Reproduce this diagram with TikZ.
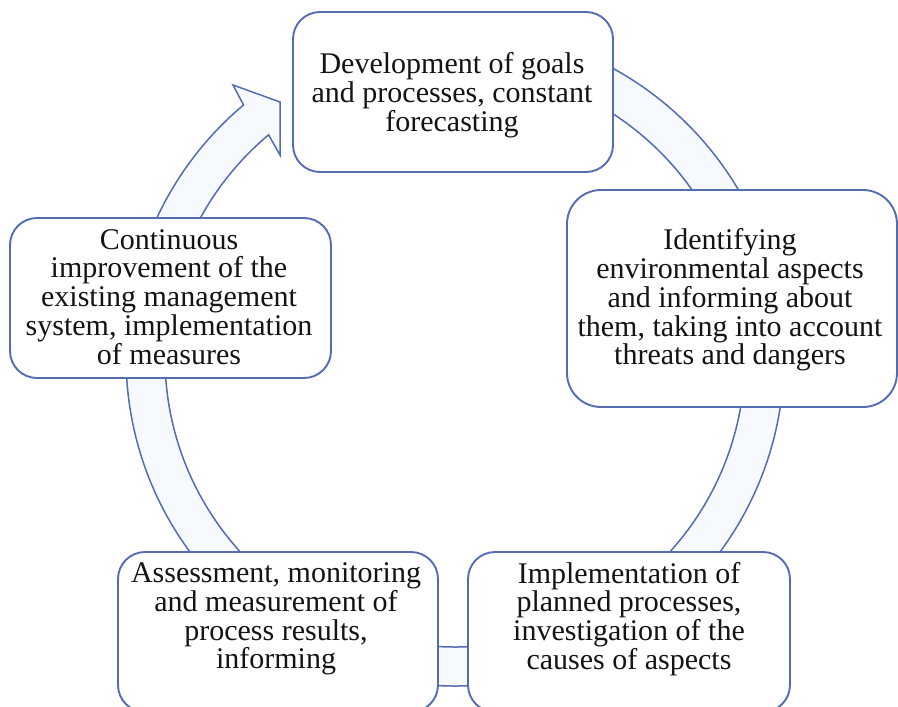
\documentclass[tikz,border=0pt]{standalone}
\usepackage{fontspec}
\setmainfont{Liberation Serif}
\usetikzlibrary{calc}
\definecolor{lineblue}{RGB}{84,108,178}
\definecolor{bandfill}{RGB}{246,249,254}
\definecolor{txt}{RGB}{20,20,20}
\tikzset{
  boxshape/.style={draw=lineblue, line width=1.9pt, fill=white, rounded corners=27pt,
    inner sep=0pt, minimum width=320pt, minimum height=160pt},
  boxtext/.style={text=txt, align=center, inner sep=0pt,
    font=\fontsize{30}{28.8}\selectfont},
  band/.style={draw=lineblue, line width=1.5pt, fill=bandfill, line join=miter}
}
\begin{document}
\begin{tikzpicture}[x=1pt,y=-1pt]
\useasboundingbox (0,0) rectangle (898,707);
\coordinate (C) at (455,357);
\coordinate (barbout) at (233,85);
\coordinate (tipa) at (280,102);
\coordinate (tipb) at (280,155);
% cycle band with arrow head
\draw[band] ($(C)+(265:329)$) arc[start angle=265, end angle=590, radius=329]
  -- (barbout) -- (tipa) -- (tipb) -- ($(C)+(590:290)$)
  arc[start angle=590, end angle=265, radius=290] -- cycle;
% boxes
\node[boxshape] (top) at (453,92) {};
\node[boxshape, minimum width=330pt, minimum height=217pt, rounded corners=34pt] (right) at (732,298.5) {};
\node[boxshape, minimum width=322pt] (bright) at (629,632) {};
\node[boxshape] (bleft) at (278,632) {};
\node[boxshape, minimum width=321pt] (left) at (170.5,298) {};
% texts
\node[boxtext] (ttop) at (452,95) {Development of goals\\and processes, constant\\forecasting};
\node[boxtext] (tright) at (730,300) {Identifying\\environmental aspects\\and informing about\\them, taking into account\\threats and dangers};
\node[boxtext] (tbright) at (629,619) {Implementation of\\planned processes,\\investigation of the\\causes of aspects};
\node[boxtext] (tbleft) at (276,619) {Assessment, monitoring\\and measurement of\\process results,\\informing};
\node[boxtext] (tleft) at (169,297) {Continuous\\improvement of the\\existing management\\system, implementation\\of measures};
\end{tikzpicture}
\end{document}
